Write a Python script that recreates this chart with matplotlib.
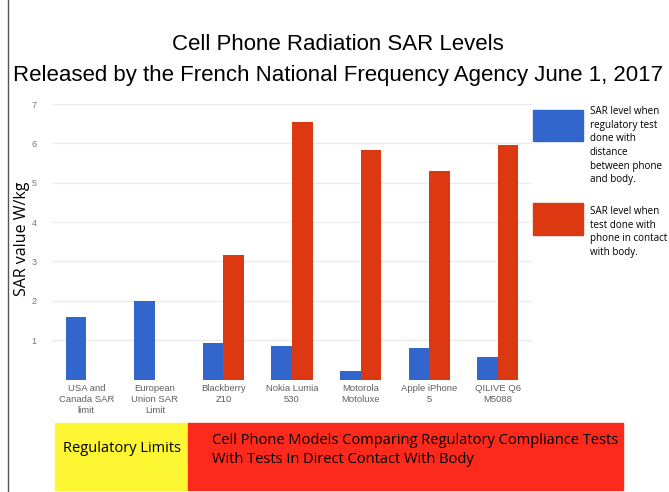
import numpy as np
import matplotlib
matplotlib.use("Agg")
import matplotlib.pyplot as plt
from matplotlib.patches import Rectangle
from matplotlib.lines import Line2D

categories = ["USA and\nCanada SAR\nlimit", "European\nUnion SAR\nLimit", "Blackberry\nZ10",
              "Nokia Lumia\n530", "Motorola\nMotoluxe", "Apple iPhone\n5", "QILIVE Q6\nM5088"]
sar_distance = [1.6, 2.0, 0.92, 0.85, 0.22, 0.81, 0.58]
sar_contact = [np.nan, np.nan, 3.16, 6.54, 5.82, 5.30, 5.97]
yticks = [1, 2, 3, 4, 5, 6, 7]

legend_blue = "SAR level when\nregulatory test\ndone with\ndistance\nbetween phone\nand body."
legend_red = "SAR level when\ntest done with\nphone in contact\nwith body."

BLUE = "#3366cc"
RED = "#dc3912"
W, H = 669, 492


def fx(px):
    return px / W


def fy(py):
    return 1 - py / H


fig = plt.figure(figsize=(W / 100, H / 100), dpi=100)

ax = fig.add_axes([fx(52), fy(379.5), fx(532) - fx(52), fy(104) - fy(379.5)])
x = np.arange(len(categories))
bw = 0.3
ax.bar(x - bw / 2, sar_distance, bw, color=BLUE, zorder=2)
ax.bar(x + bw / 2, sar_contact, bw, color=RED, zorder=2)
ax.set_xlim(-0.5, len(categories) - 0.5)
ax.set_ylim(0, 7)
ax.set_yticks(yticks)
ax.set_yticklabels([str(t) for t in yticks], fontsize=6.5, color="#777777", family="Liberation Sans")
ax.set_xticks(x)
ax.set_xticklabels(categories, fontsize=6.8, color="#606060", family="Liberation Sans", linespacing=1.3)
ax.tick_params(axis="both", length=0)
ax.tick_params(axis="y", pad=11)
ax.tick_params(axis="x", pad=3)
ax.grid(axis="y", color="#ebebeb", lw=1, zorder=0)
for s in ax.spines.values():
    s.set_visible(False)

fig.text(fx(22), fy(239), "SAR value W/kg", rotation=90, ha="center", va="center",
         fontsize=11.5, family="Open Sans")

fig.text(fx(338), fy(44), "Cell Phone Radiation SAR Levels", ha="center", va="center",
         fontsize=16, family="Liberation Sans")
fig.text(fx(338), fy(75), "Released by the French National Frequency Agency June 1, 2017",
         ha="center", va="center", fontsize=16, family="Liberation Sans")

# legend
fig.patches.append(Rectangle((fx(533), fy(141)), fx(50), fy(110) - fy(141),
                             transform=fig.transFigure, color=BLUE))
fig.patches.append(Rectangle((fx(533), fy(235)), fx(50), fy(203) - fy(235),
                             transform=fig.transFigure, color=RED))
fig.text(fx(590), fy(106), legend_blue, ha="left", va="top", fontsize=7.1,
         family="Open Sans", linespacing=1.33)
fig.text(fx(590), fy(206), legend_red, ha="left", va="top", fontsize=7.1,
         family="Open Sans", linespacing=1.33)

# bottom banner
fig.patches.append(Rectangle((fx(55), fy(490)), fx(188) - fx(55), fy(423) - fy(490),
                             transform=fig.transFigure, color="#fdf632"))
fig.patches.append(Rectangle((fx(188), fy(490)), fx(623) - fx(188), fy(423) - fy(490),
                             transform=fig.transFigure, color="#fb2a1c"))
fig.text(fx(122), fy(448), "Regulatory Limits", ha="center", va="center",
         fontsize=10.5, family="Open Sans")
fig.text(fx(212), fy(450), "Cell Phone Models Comparing Regulatory Compliance Tests\nWith Tests In Direct Contact With Body",
         ha="left", va="center", fontsize=10.5, family="Open Sans", linespacing=1.3)

fig.lines.append(Line2D([fx(7.5), fx(7.5)], [0, 1], transform=fig.transFigure,
                        color="#555555", lw=1))

fig.savefig("out.png", dpi=100)
